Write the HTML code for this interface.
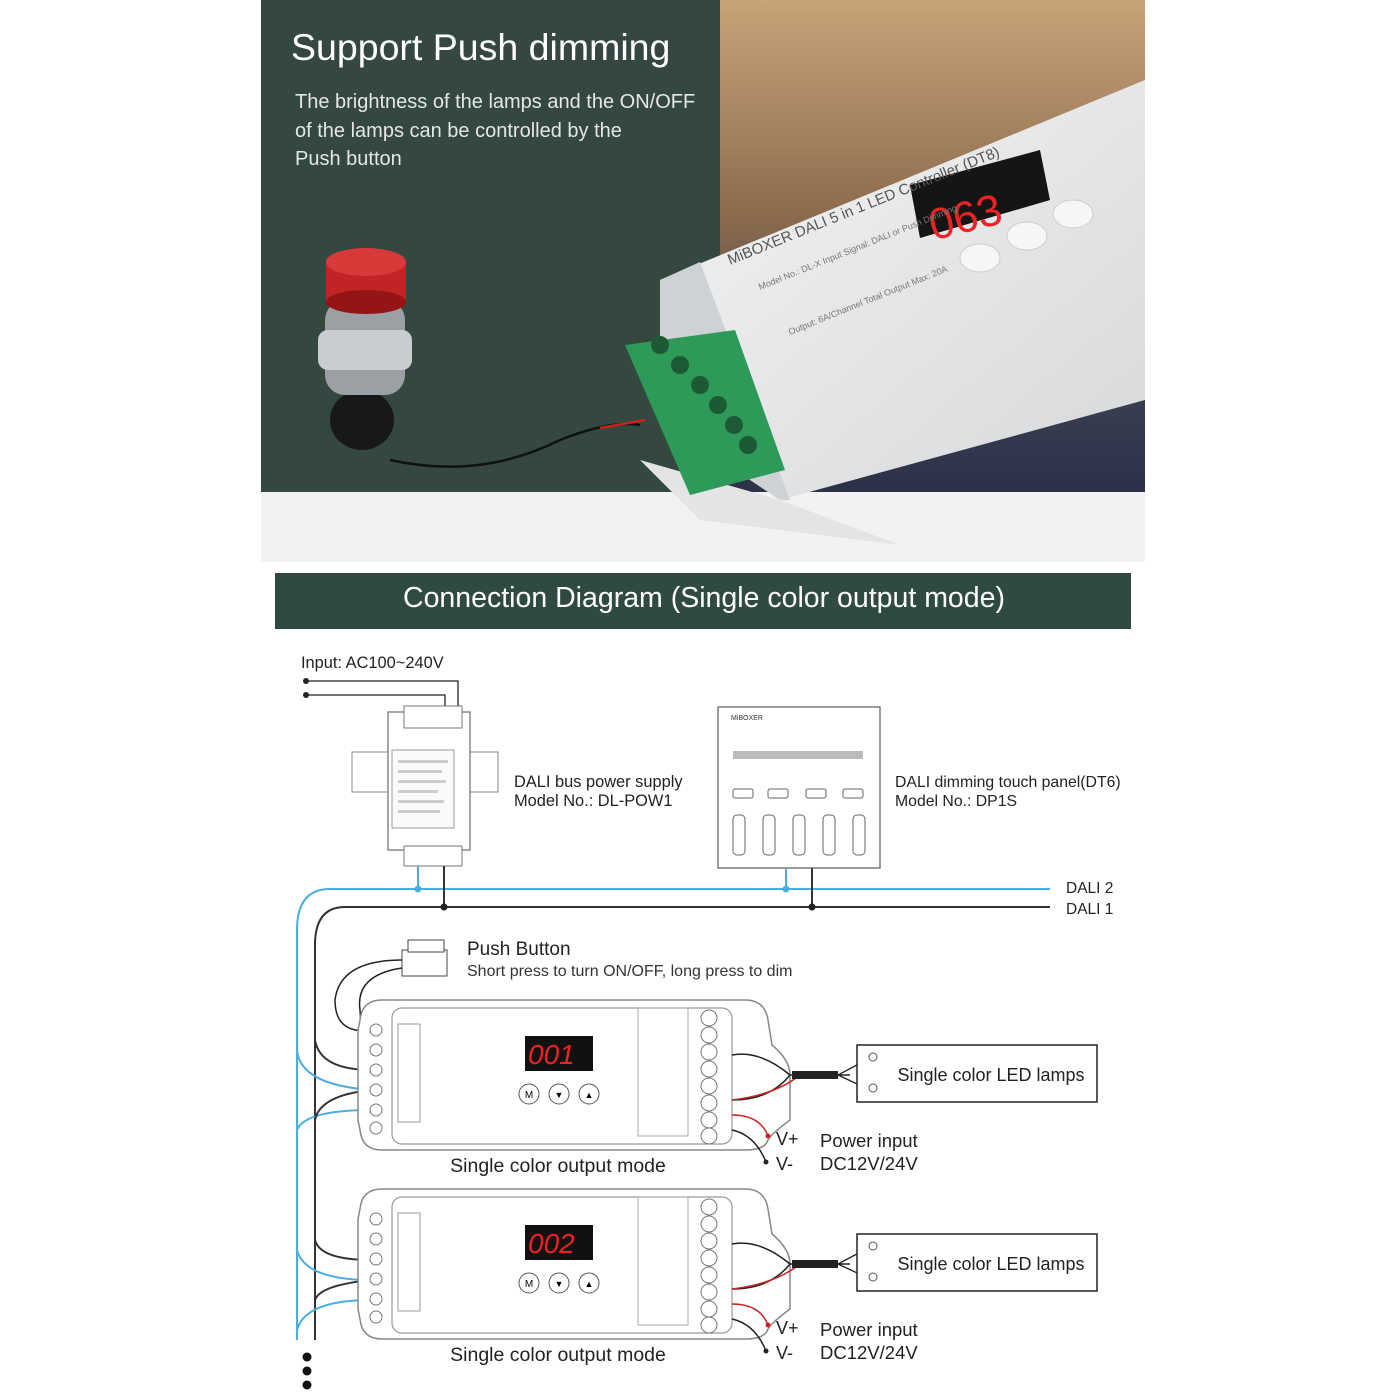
<!DOCTYPE html>
<html><head><meta charset="utf-8"><style>
body{margin:0;background:#fff}
svg{display:block}
text{font-family:"Liberation Sans",sans-serif}
</style></head><body>
<svg width="1400" height="1400" viewBox="0 0 1400 1400" xmlns="http://www.w3.org/2000/svg">
<defs>
<linearGradient id="ph" x1="0" y1="0" x2="0" y2="1">
<stop offset="0" stop-color="#c9a47a"/><stop offset="0.45" stop-color="#8a6a4c"/><stop offset="0.75" stop-color="#3e4256"/><stop offset="1" stop-color="#2c3148"/></linearGradient>
<linearGradient id="bx" x1="0" y1="0" x2="1" y2="1">
<stop offset="0" stop-color="#f4f4f4"/><stop offset="1" stop-color="#d6d8da"/></linearGradient>
<g id="ctrl">
<path d="M382,1000 L745,1000 Q765,1000 768,1020 L772,1045 Q790,1060 790,1075 L790,1120 Q770,1135 768,1140 Q765,1150 745,1150 L382,1150 Q362,1150 360,1130 L358,1120 L358,1030 L360,1020 Q362,1000 382,1000 Z" fill="#fff" stroke="#888" stroke-width="1.5"/>
<rect x="392" y="1008" width="340" height="136" rx="10" fill="none" stroke="#999" stroke-width="1.2"/>
<rect x="398" y="1024" width="22" height="98" fill="none" stroke="#999"/>
<g fill="#fff" stroke="#777"><circle cx="376" cy="1030" r="6"/><circle cx="376" cy="1050" r="6"/><circle cx="376" cy="1070" r="6"/><circle cx="376" cy="1090" r="6"/><circle cx="376" cy="1110" r="6"/><circle cx="376" cy="1128" r="6"/></g>
<rect x="638" y="1008" width="50" height="128" fill="none" stroke="#aaa"/>
<g fill="#fff" stroke="#777"><circle cx="709" cy="1018" r="8"/><circle cx="709" cy="1035" r="8"/><circle cx="709" cy="1052" r="8"/><circle cx="709" cy="1069" r="8"/><circle cx="709" cy="1086" r="8"/><circle cx="709" cy="1103" r="8"/><circle cx="709" cy="1120" r="8"/><circle cx="709" cy="1136" r="8"/></g>
<rect x="525" y="1036" width="68" height="35" fill="#111"/>
<g fill="#fff" stroke="#555"><circle cx="529" cy="1094" r="10"/><circle cx="559" cy="1094" r="10"/><circle cx="589" cy="1094" r="10"/></g>
<text x="529" y="1098" font-size="10" text-anchor="middle">M</text>
<text x="559" y="1098" font-size="9" text-anchor="middle">▼</text>
<text x="589" y="1098" font-size="9" text-anchor="middle">▲</text>
<text x="558" y="1172" font-size="19.5" text-anchor="middle" fill="#222">Single color output mode</text>
<path d="M732,1055 Q760,1050 790,1075 L850,1075 M732,1100 Q770,1100 790,1075" fill="none" stroke="#222" stroke-width="1.5"/>
<path d="M732,1100 Q775,1095 800,1075" fill="none" stroke="#c22" stroke-width="1.5"/>
<rect x="792" y="1071" width="46" height="8" fill="#222"/>
<path d="M838,1075 L870,1058 M838,1075 L870,1090" stroke="#222" fill="none" stroke-width="1.3"/>
<rect x="857" y="1045" width="240" height="57" fill="#fff" stroke="#222" stroke-width="1.5"/>
<circle cx="873" cy="1057" r="4" fill="#fff" stroke="#555"/><circle cx="873" cy="1088" r="4" fill="#fff" stroke="#555"/>
<text x="991" y="1081" font-size="18" text-anchor="middle" fill="#222">Single color LED lamps</text>
<path d="M732,1115 Q760,1115 768,1136" fill="none" stroke="#c22" stroke-width="1.5"/>
<circle cx="768" cy="1136" r="2.5" fill="#c22"/>
<path d="M732,1130 Q755,1135 766,1162" fill="none" stroke="#222" stroke-width="1.5"/>
<circle cx="766" cy="1162" r="2.5" fill="#222"/>
<text x="776" y="1145" font-size="18" fill="#222">V+</text>
<text x="776" y="1170" font-size="18" fill="#222">V-</text>
<text x="820" y="1147" font-size="18.5" fill="#222">Power input</text>
<text x="820" y="1170" font-size="18.5" fill="#222">DC12V/24V</text>
</g>
</defs>

<rect x="261" y="0" width="884" height="492" fill="#34483f"/>
<rect x="720" y="0" width="425" height="492" fill="url(#ph)"/>
<rect x="261" y="492" width="884" height="70" fill="#f2f2f2"/>
<polygon points="660,280 1145,80 1145,400 780,500 660,420" fill="url(#bx)"/>
<polygon points="660,280 700,262 790,500 780,500 660,420" fill="#cfd2d4"/>
<polygon points="640,460 700,520 900,545 780,500" fill="#e4e4e4"/>
<polygon points="625,345 735,330 785,470 690,495" fill="#2e9a5a"/>
<g fill="#1d5a34"><circle cx="660" cy="345" r="9"/><circle cx="680" cy="365" r="9"/><circle cx="700" cy="385" r="9"/><circle cx="718" cy="405" r="9"/><circle cx="734" cy="425" r="9"/><circle cx="748" cy="445" r="9"/></g>
<polygon points="910,185 1040,150 1050,200 920,238" fill="#151515"/>
<text x="925" y="228" font-size="44" fill="#e22" font-family="Liberation Mono" transform="rotate(-14 980 200)">063</text>
<g fill="#f6f6f6" stroke="#ccc"><ellipse cx="980" cy="258" rx="20" ry="14"/><ellipse cx="1027" cy="236" rx="20" ry="14"/><ellipse cx="1073" cy="214" rx="20" ry="14"/></g>
<text x="730" y="265" font-size="15" fill="#555" transform="rotate(-22 730 265)">MiBOXER  DALI 5 in 1 LED Controller (DT8)</text>
<text x="760" y="290" font-size="9" fill="#777" transform="rotate(-22 760 290)">Model No.: DL-X  Input Signal: DALI or Push Dimming</text>
<text x="790" y="335" font-size="9" fill="#777" transform="rotate(-22 790 335)">Output: 6A/Channel  Total Output Max: 20A</text>
<ellipse cx="362" cy="420" rx="32" ry="30" fill="#181818"/>
<rect x="325" y="300" width="80" height="95" rx="20" fill="#9aa0a4"/>
<rect x="318" y="330" width="94" height="40" rx="10" fill="#c8cdd0"/>
<ellipse cx="366" cy="270" rx="40" ry="22" fill="#b81e1e"/>
<rect x="326" y="262" width="80" height="40" fill="#c02424"/>
<ellipse cx="366" cy="302" rx="40" ry="12" fill="#951515"/>
<ellipse cx="366" cy="262" rx="40" ry="14" fill="#d83a3a"/>
<path d="M390,460 Q480,480 560,440 Q610,420 640,425" fill="none" stroke="#111" stroke-width="2.5"/>
<path d="M600,428 L645,420" stroke="#c22" stroke-width="2.5"/>
<text x="291" y="60" font-size="37.5" fill="#fff">Support Push dimming</text>
<text x="295" y="108" font-size="20" fill="#e6e6e6">The brightness of the lamps and the ON/OFF</text>
<text x="295" y="137" font-size="20" fill="#e6e6e6">of the lamps can be controlled by the</text>
<text x="295" y="165" font-size="20" fill="#e6e6e6">Push button</text>

<rect x="275" y="573" width="856" height="56" fill="#2f4a41"/>
<text x="704" y="607" font-size="28.5" fill="#fff" text-anchor="middle">Connection Diagram (Single color output mode)</text>

<text x="301" y="668" font-size="16.4" fill="#222">Input: AC100~240V</text>
<circle cx="306" cy="681" r="3" fill="#222"/><circle cx="306" cy="695" r="3" fill="#222"/>
<path d="M306,681 L458,681 L458,712 M306,695 L445,695 L445,712" fill="none" stroke="#222" stroke-width="1.3"/>
<rect x="352" y="752" width="146" height="40" fill="#fff" stroke="#888"/>
<rect x="388" y="712" width="82" height="138" fill="#fff" stroke="#777" stroke-width="1.3"/>
<rect x="404" y="706" width="58" height="22" fill="#fff" stroke="#777"/>
<rect x="404" y="846" width="58" height="20" fill="#fff" stroke="#777"/>
<rect x="392" y="750" width="62" height="78" fill="#fafafa" stroke="#999"/>
<g fill="#ccc"><rect x="398" y="760" width="50" height="3"/><rect x="398" y="770" width="44" height="3"/><rect x="398" y="780" width="48" height="3"/><rect x="398" y="790" width="40" height="3"/><rect x="398" y="800" width="46" height="3"/><rect x="398" y="810" width="42" height="3"/></g>
<text x="514" y="787" font-size="16.4" fill="#222">DALI bus power supply</text>
<text x="514" y="806" font-size="16.4" fill="#222">Model No.: DL-POW1</text>
<rect x="718" y="707" width="162" height="161" fill="#fff" stroke="#666" stroke-width="1.3"/>
<text x="731" y="720" font-size="7" fill="#333">MiBOXER</text>
<rect x="733" y="751" width="130" height="8" fill="#bbb"/>
<g fill="#fff" stroke="#666"><rect x="733" y="789" width="20" height="9" rx="2"/><rect x="768" y="789" width="20" height="9" rx="2"/><rect x="806" y="789" width="20" height="9" rx="2"/><rect x="843" y="789" width="20" height="9" rx="2"/>
<rect x="733" y="815" width="12" height="40" rx="4"/><rect x="763" y="815" width="12" height="40" rx="4"/><rect x="793" y="815" width="12" height="40" rx="4"/><rect x="823" y="815" width="12" height="40" rx="4"/><rect x="853" y="815" width="12" height="40" rx="4"/></g>
<text x="895" y="787" font-size="15.8" fill="#222">DALI dimming touch panel(DT6)</text>
<text x="895" y="806" font-size="15.8" fill="#222">Model No.: DP1S</text>
<path d="M1050,889 L330,889 Q297,889 297,930 L297,1340" fill="none" stroke="#4aaee0" stroke-width="2"/>
<path d="M1050,907 L345,907 Q315,907 315,945 L315,1340" fill="none" stroke="#333" stroke-width="2"/>
<path d="M418,866 L418,889 M786,868 L786,889" stroke="#4aaee0" stroke-width="2"/>
<path d="M444,866 L444,907 M812,868 L812,907" stroke="#333" stroke-width="2"/>
<circle cx="418" cy="889" r="3.5" fill="#4aaee0"/><circle cx="786" cy="889" r="3.5" fill="#4aaee0"/>
<circle cx="444" cy="907" r="3.5" fill="#222"/><circle cx="812" cy="907" r="3.5" fill="#222"/>
<text x="1066" y="893" font-size="15.5" fill="#222">DALI 2</text>
<text x="1066" y="914" font-size="15.5" fill="#222">DALI 1</text>
<rect x="402" y="950" width="45" height="26" fill="#fff" stroke="#444"/>
<rect x="408" y="940" width="36" height="12" fill="#fff" stroke="#444"/>
<path d="M402,960 Q340,960 335,1000 Q335,1035 372,1030 M402,968 Q355,975 360,1010 Q362,1045 372,1050" fill="none" stroke="#222" stroke-width="1.5"/>
<text x="467" y="955" font-size="19" fill="#222">Push Button</text>
<text x="467" y="976" font-size="16" fill="#333">Short press to turn ON/OFF, long press to dim</text>
<path d="M297,1050 Q300,1085 372,1090 M297,1130 Q305,1110 372,1110 M297,1250 Q305,1280 372,1280 M297,1330 Q305,1300 372,1300" fill="none" stroke="#4aaee0" stroke-width="2"/>
<path d="M315,1040 Q320,1070 372,1070 M315,1120 Q320,1095 372,1090 M315,1240 Q320,1260 372,1260 M315,1300 Q320,1285 372,1280" fill="none" stroke="#333" stroke-width="2"/>
<use href="#ctrl"/>
<use href="#ctrl" transform="translate(0,189)"/>
<text x="528" y="1064" font-size="28" fill="#e22" font-family="Liberation Mono" font-style="italic">001</text>
<text x="528" y="1253" font-size="28" fill="#e22" font-family="Liberation Mono" font-style="italic">002</text>
<circle cx="307" cy="1357" r="4.5" fill="#111"/><circle cx="307" cy="1371" r="4.5" fill="#111"/><circle cx="307" cy="1385" r="4.5" fill="#111"/>
</svg>
</body></html>
